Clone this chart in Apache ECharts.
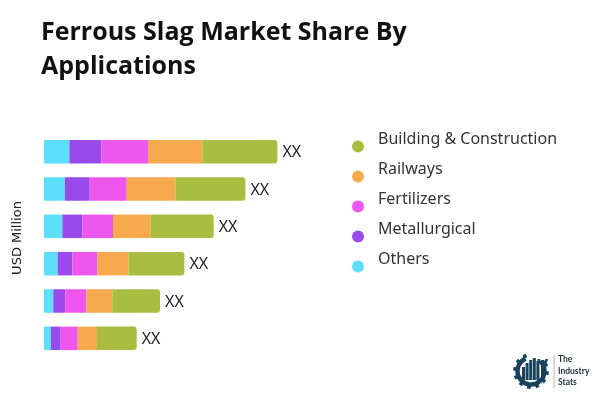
<!DOCTYPE html>
<html>
<head>
<meta charset="utf-8">
<style>
html,body{margin:0;padding:0;background:#fff}
#chart{width:600px;height:400px}
</style>
<script src="https://cdn.jsdelivr.net/npm/echarts@6/dist/echarts.min.js"></script>
</head>
<body>
<div id="chart"></div>
<script>
// values, top bar first
var categories = ['A', 'B', 'C', 'D', 'E', 'F'];
var others = [25.4, 21, 18.4, 13.7, 9.3, 7];
var metallurgical = [32, 24.7, 20, 14.7, 12, 9.7];
var fertilizers = [46.6, 37, 30.6, 25, 21, 17];
var railways = [54.4, 48.7, 37.7, 31.3, 26, 19.3];
var building = [75, 70, 63, 55.7, 47.7, 39.7];
var legendNames = ['Building & Construction', 'Railways', 'Fertilizers', 'Metallurgical', 'Others'];

var logoColor = '#16425b';
var fontName = '"Noto Sans","Open Sans",sans-serif';

function makeSeries(name, values, color, radius, label) {
	return {
		name: name,
		type: 'bar',
		stack: 'total',
		barWidth: 23.5,
		data: values,
		itemStyle: {color: color, borderRadius: radius},
		label: label || {show: false},
		emphasis: {disabled: true}
	};
}

//logo: gear, bars, wrench and the name next to it
function logoParts() {
	var cx = 531, cy = 371, parts = [];
	parts.push({type: 'arc', shape: {cx: cx, cy: cy, r: 13.5, startAngle: -0.75, endAngle: 4.3, clockwise: true},
		style: {stroke: logoColor, fill: null, lineWidth: 4.5}});
	for (var i = 0; i < 12; i++) {
		var a = i * Math.PI / 6 + 0.13;
		if (a > 4.5 && a < 5.6) continue;
		parts.push({type: 'rect', x: cx + Math.cos(a) * 16, y: cy + Math.sin(a) * 16, rotation: -a,
			shape: {x: -1.8, y: -1.8, width: 3.6, height: 3.6}, style: {fill: logoColor}});
	}
	var barH = [13, 17, 20, 22, 19];
	for (var j = 0; j < barH.length; j++) {
		parts.push({type: 'rect', shape: {x: 522 + j * 3.6, y: 380 - barH[j], width: 3, height: barH[j]}, style: {fill: logoColor}});
	}
	parts.push({type: 'rect', shape: {x: 541, y: 360, width: 3.4, height: 20}, style: {fill: logoColor}});
	parts.push({type: 'arc', shape: {cx: 542.7, cy: 359, r: 4, startAngle: 0, endAngle: Math.PI, clockwise: true},
		style: {stroke: logoColor, fill: null, lineWidth: 2.6}});
	parts.push({type: 'rect', shape: {x: 553.6, y: 355, width: 1, height: 33}, style: {fill: '#b5b5b5'}});
	var words = ['The', 'Industry', 'Stats'], ys = [359, 371, 382];
	for (var k = 0; k < words.length; k++) {
		parts.push({type: 'text', x: 558, y: ys[k], style: {text: words[k], fill: '#1f2d35',
			font: 'bold 8.5px Lato,' + fontName, textVerticalAlign: 'middle'}});
	}
	return parts;
}

var chart = echarts.init(document.getElementById('chart'));
chart.setOption({
	animation: false,
	title: {
		text: 'Ferrous Slag Market Share By\nApplications',
		left: 36,
		top: 11,
		textStyle: {fontFamily: '"Open Sans",sans-serif', fontSize: 25, fontWeight: 'bold', color: '#111', lineHeight: 34}
	},
	legend: {
		orient: 'vertical',
		left: 352,
		top: 131,
		padding: 0,
		itemGap: -1,
		itemWidth: 12,
		itemHeight: 12,
		icon: 'circle',
		data: legendNames,
		selectedMode: false,
		//blank second line lifts the name above its marker
		formatter: function(name) { return name + '\n '; },
		textStyle: {fontFamily: fontName, fontSize: 16, color: '#333', lineHeight: 15, padding: [0, 0, 0, 9]}
	},
	grid: {left: 44, top: 133, width: 300, height: 224},
	xAxis: {type: 'value', min: 0, max: 300, show: false},
	yAxis: {
		type: 'category',
		inverse: true,
		data: categories,
		name: 'USD Million',
		nameLocation: 'middle',
		nameGap: 20,
		nameTextStyle: {fontFamily: '"DejaVu Sans",sans-serif', fontSize: 13, color: '#222', padding: [0, 0, 0, 14]},
		axisLine: {show: false},
		axisTick: {show: false},
		axisLabel: {show: false}
	},
	series: [
		makeSeries('Others', others, '#5bdffb', [1, 0, 0, 1]),
		makeSeries('Metallurgical', metallurgical, '#9a4aec', 0),
		makeSeries('Fertilizers', fertilizers, '#ee57ee', 0),
		makeSeries('Railways', railways, '#f6a94d', 0),
		makeSeries('Building & Construction', building, '#a8bd42', [0, 3, 3, 0], {
			show: true,
			position: 'right',
			distance: 5,
			offset: [0, 1],
			formatter: 'XX',
			fontFamily: fontName,
			fontSize: 16,
			color: '#222'
		})
	],
	graphic: logoParts()
});
</script>
</body>
</html>
